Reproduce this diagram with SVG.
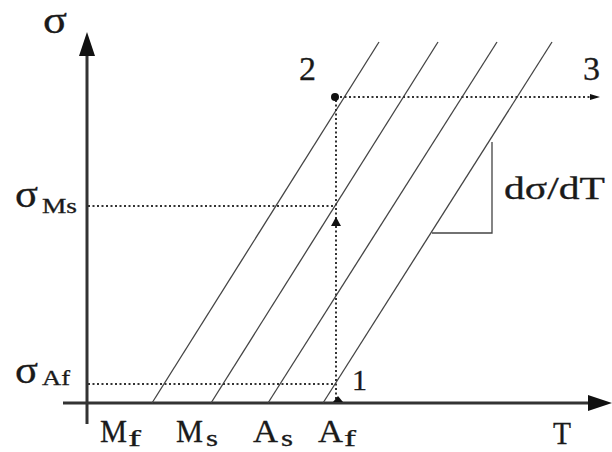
<svg xmlns="http://www.w3.org/2000/svg" width="612" height="452" viewBox="0 0 612 452">
<style>
.t{font-family:"Liberation Serif","Times New Roman",serif;fill:#1a1a1a;stroke:#1a1a1a;stroke-width:0.3}
.ax{stroke:#333;stroke-width:3;fill:none}
.ln{stroke:#444;stroke-width:1.3;fill:none}
.dt{stroke:#333;stroke-width:2;stroke-dasharray:2 2.5;fill:none}
</style>
<rect width="612" height="452" fill="#fff"/>
<g id="axes">
<line class="ax" x1="87" y1="52" x2="87" y2="424"/>
<polygon points="87,32 79,56 95,56" fill="#111"/>
<line class="ax" x1="63" y1="403" x2="594" y2="403"/>
<polygon points="612,403 588,395 588,411" fill="#111"/>
</g>
<g id="lines">
<line class="ln" x1="152" y1="403" x2="379" y2="42"/>
<line class="ln" x1="211" y1="403" x2="438" y2="42"/>
<line class="ln" x1="268" y1="403" x2="497" y2="42"/>
<line class="ln" x1="323" y1="403" x2="552" y2="42"/>
<polyline class="ln" points="432,233 492,233 492,142" stroke-width="1.6"/>
</g>
<g id="connectors">
<line class="dt" x1="88" y1="206" x2="335" y2="206"/>
<line class="dt" x1="88" y1="384" x2="335" y2="384"/>
<line class="dt" x1="336" y1="100" x2="336" y2="400"/>
<line class="dt" x1="340" y1="97" x2="592" y2="97"/>
<polygon points="600,97 590,94 590,100" fill="#111"/>
<circle cx="335" cy="97" r="4" fill="#111"/>
<polygon points="336,217 331,226 341,226" fill="#111"/>
<polygon points="338,396 333,402 343,402" fill="#111"/>
</g>
<g id="labels">
<text class="t" x="43" y="33" font-size="38" textLength="24" lengthAdjust="spacingAndGlyphs">σ</text>
<text class="t" x="299" y="80" font-size="34" textLength="17" lengthAdjust="spacingAndGlyphs">2</text>
<text class="t" x="583" y="80" font-size="34" textLength="17" lengthAdjust="spacingAndGlyphs">3</text>
<text class="t" x="352" y="390" font-size="30">1</text>
<text class="t" x="15" y="207" font-size="38" textLength="23" lengthAdjust="spacingAndGlyphs">σ</text>
<text class="t" x="42" y="213" font-size="20" textLength="35" lengthAdjust="spacingAndGlyphs">Ms</text>
<text class="t" x="15" y="383" font-size="38" textLength="23" lengthAdjust="spacingAndGlyphs">σ</text>
<text class="t" x="42" y="385" font-size="20" textLength="28" lengthAdjust="spacingAndGlyphs">Af</text>
<text class="t" x="504" y="199" font-size="31" textLength="101" lengthAdjust="spacingAndGlyphs">dσ/dT</text>
<text class="t" x="100" y="442" font-size="32" textLength="27" lengthAdjust="spacingAndGlyphs">M</text>
<text class="t" x="128" y="446" font-size="24" textLength="13" lengthAdjust="spacingAndGlyphs">f</text>
<text class="t" x="176" y="442" font-size="32" textLength="27" lengthAdjust="spacingAndGlyphs">M</text>
<text class="t" x="206" y="446" font-size="24" textLength="12" lengthAdjust="spacingAndGlyphs">s</text>
<text class="t" x="253" y="442" font-size="32" textLength="25" lengthAdjust="spacingAndGlyphs">A</text>
<text class="t" x="281" y="446" font-size="24" textLength="12" lengthAdjust="spacingAndGlyphs">s</text>
<text class="t" x="318" y="442" font-size="32" textLength="25" lengthAdjust="spacingAndGlyphs">A</text>
<text class="t" x="344" y="446" font-size="24" textLength="12" lengthAdjust="spacingAndGlyphs">f</text>
<text class="t" x="553" y="444" font-size="32" textLength="18" lengthAdjust="spacingAndGlyphs">T</text>
</g>
</svg>
